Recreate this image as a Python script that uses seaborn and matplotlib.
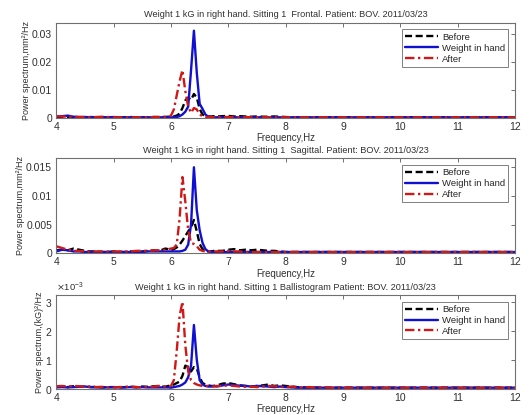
import numpy as np
import pandas as pd
import matplotlib
matplotlib.use("Agg")
import matplotlib.pyplot as plt
import seaborn as sns
from matplotlib.ticker import ScalarFormatter

# Frequency grid, Hz (finer spacing around the tremor peak)
freq = [4.0, 4.1, 4.2, 4.3, 4.4, 4.5, 4.6, 4.7, 4.8, 4.9,
        5.0, 5.1, 5.2, 5.3, 5.4, 5.5, 5.6, 5.7, 5.8,
        5.85, 5.90, 5.95, 6.00, 6.05, 6.10, 6.15, 6.20, 6.25, 6.30,
        6.35, 6.40, 6.45, 6.50, 6.55, 6.60, 6.65, 6.70, 6.75, 6.80,
        6.9, 7.0, 7.1, 7.2, 7.3, 7.4, 7.5, 7.6, 7.7, 7.8,
        7.9, 8.0, 8.1, 8.2, 8.3, 8.4, 8.5, 8.6, 8.7, 8.8, 8.9, 9.0,
        9.5, 10.0, 10.5, 11.0, 11.5, 12.0]

# Frontal plane, mm^2/Hz
frontal_before = [
    0.0003, 0.0004, 0.0003, 0.0002, 0.0002, 0.0002, 0.0003, 0.0002, 0.0002, 0.0002,
    0.0002, 0.0002, 0.0002, 0.0003, 0.0002, 0.0002, 0.0002, 0.0003, 0.0003,
    0.0003, 0.0003, 0.0004, 0.0004, 0.0005, 0.0008, 0.0015, 0.0035, 0.0062, 0.0072,
    0.0064, 0.0085, 0.0072, 0.0032, 0.0012, 0.0007, 0.0005, 0.0005, 0.0006, 0.0005,
    0.0006, 0.0007, 0.0005, 0.0006, 0.0005, 0.0004, 0.0005, 0.0004, 0.0004, 0.0005,
    0.0004, 0.0003, 0.0002, 0.0002, 0.0002, 0.0002, 0.0002, 0.0002, 0.0002, 0.0002, 0.0002, 0.0002,
    0.0002, 0.0002, 0.0002, 0.0002, 0.0002, 0.0002]
frontal_weight = [
    0.0005, 0.0006, 0.0008, 0.0004, 0.0003, 0.0003, 0.0002, 0.0002, 0.0002, 0.0002,
    0.0003, 0.0002, 0.0002, 0.0002, 0.0002, 0.0002, 0.0002, 0.0002, 0.0002,
    0.0002, 0.0002, 0.0002, 0.0002, 0.0002, 0.0003, 0.0006, 0.0012, 0.0022, 0.0040,
    0.0170, 0.0310, 0.0160, 0.0050, 0.0032, 0.0012, 0.0004, 0.0002, 0.0002, 0.0002,
    0.0002, 0.0002, 0.0002, 0.0002, 0.0002, 0.0002, 0.0002, 0.0002, 0.0002, 0.0002,
    0.0002, 0.0002, 0.0002, 0.0002, 0.0002, 0.0002, 0.0002, 0.0002, 0.0002, 0.0002, 0.0002, 0.0002,
    0.0002, 0.0002, 0.0002, 0.0002, 0.0002, 0.0002]
frontal_after = [
    0.0006, 0.0005, 0.0004, 0.0004, 0.0003, 0.0003, 0.0002, 0.0003, 0.0004, 0.0003,
    0.0002, 0.0002, 0.0002, 0.0002, 0.0002, 0.0002, 0.0002, 0.0003, 0.0003,
    0.0003, 0.0004, 0.0005, 0.0008, 0.0030, 0.0080, 0.0130, 0.0170, 0.0095, 0.0040,
    0.0018, 0.0035, 0.0030, 0.0012, 0.0006, 0.0003, 0.0003, 0.0003, 0.0003, 0.0003,
    0.0003, 0.0003, 0.0003, 0.0002, 0.0003, 0.0002, 0.0002, 0.0003, 0.0002, 0.0002,
    0.0002, 0.0002, 0.0002, 0.0002, 0.0002, 0.0002, 0.0002, 0.0002, 0.0002, 0.0002, 0.0002, 0.0002,
    0.0002, 0.0002, 0.0002, 0.0002, 0.0002, 0.0002]

# Sagittal plane, mm^2/Hz
sagittal_before = [
    0.0005, 0.0006, 0.0005, 0.0008, 0.0006, 0.0004, 0.0003, 0.0003, 0.0002, 0.0002,
    0.0003, 0.0002, 0.0002, 0.0003, 0.0002, 0.0003, 0.0004, 0.0005, 0.0004,
    0.0006, 0.0008, 0.0007, 0.0005, 0.0007, 0.0010, 0.0015, 0.0022, 0.0030, 0.0038,
    0.0045, 0.0058, 0.0038, 0.0016, 0.0007, 0.0004, 0.0003, 0.0003, 0.0004, 0.0004,
    0.0004, 0.0006, 0.0007, 0.0005, 0.0006, 0.0005, 0.0006, 0.0005, 0.0004, 0.0004,
    0.0003, 0.0002, 0.0002, 0.0002, 0.0002, 0.0002, 0.0002, 0.0002, 0.0002, 0.0002, 0.0002, 0.0002,
    0.0002, 0.0002, 0.0002, 0.0002, 0.0002, 0.0002]
sagittal_weight = [
    0.0003, 0.0006, 0.0005, 0.0003, 0.0003, 0.0002, 0.0002, 0.0002, 0.0002, 0.0002,
    0.0002, 0.0002, 0.0002, 0.0002, 0.0002, 0.0002, 0.0003, 0.0003, 0.0003,
    0.0003, 0.0003, 0.0003, 0.0003, 0.0003, 0.0003, 0.0003, 0.0004, 0.0006, 0.0015,
    0.0050, 0.0150, 0.0075, 0.0040, 0.0018, 0.0007, 0.0003, 0.0002, 0.0002, 0.0002,
    0.0002, 0.0002, 0.0002, 0.0002, 0.0002, 0.0002, 0.0002, 0.0002, 0.0002, 0.0002,
    0.0002, 0.0002, 0.0002, 0.0002, 0.0002, 0.0002, 0.0002, 0.0002, 0.0002, 0.0002, 0.0002, 0.0002,
    0.0002, 0.0002, 0.0002, 0.0002, 0.0002, 0.0002]
sagittal_after = [
    0.0012, 0.0009, 0.0006, 0.0004, 0.0004, 0.0003, 0.0003, 0.0003, 0.0003, 0.0003,
    0.0003, 0.0003, 0.0003, 0.0003, 0.0004, 0.0004, 0.0004, 0.0005, 0.0005,
    0.0005, 0.0006, 0.0007, 0.0008, 0.0009, 0.0015, 0.0060, 0.0133, 0.0090, 0.0040,
    0.0018, 0.0016, 0.0012, 0.0006, 0.0004, 0.0003, 0.0003, 0.0003, 0.0003, 0.0003,
    0.0003, 0.0004, 0.0003, 0.0003, 0.0002, 0.0002, 0.0002, 0.0002, 0.0002, 0.0002,
    0.0002, 0.0002, 0.0002, 0.0002, 0.0002, 0.0002, 0.0002, 0.0002, 0.0002, 0.0002, 0.0002, 0.0002,
    0.0002, 0.0002, 0.0002, 0.0002, 0.0002, 0.0002]

# Ballistogram, (kG)^2/Hz
ballisto_before = [
    0.00007, 0.00008, 0.00006, 0.00009, 0.00007, 0.00008, 0.00006, 0.00007, 0.00005, 0.00006,
    0.00006, 0.00005, 0.00006, 0.00007, 0.00006, 0.00008, 0.00007, 0.00009, 0.00010,
    0.00008, 0.00007, 0.00010, 0.00012, 0.00015, 0.00020, 0.00025, 0.00045, 0.00080, 0.00075,
    0.00060, 0.00075, 0.00070, 0.00040, 0.00020, 0.00015, 0.00012, 0.00010, 0.00010, 0.00012,
    0.00018, 0.00020, 0.00016, 0.00012, 0.00010, 0.00008, 0.00010, 0.00012, 0.00015, 0.00010,
    0.00012, 0.00010, 0.00008, 0.00006, 0.00005, 0.00005, 0.00005, 0.00004, 0.00004, 0.00004, 0.00004, 0.00004,
    0.00004, 0.00004, 0.00004, 0.00004, 0.00004, 0.00004]
ballisto_weight = [
    0.00005, 0.00006, 0.00005, 0.00006, 0.00007, 0.00008, 0.00006, 0.00005, 0.00005, 0.00005,
    0.00006, 0.00005, 0.00005, 0.00006, 0.00005, 0.00006, 0.00005, 0.00005, 0.00005,
    0.00005, 0.00005, 0.00005, 0.00004, 0.00006, 0.00008, 0.00010, 0.00015, 0.00022, 0.00040,
    0.00080, 0.00220, 0.00100, 0.00030, 0.00015, 0.00010, 0.00008, 0.00008, 0.00010, 0.00008,
    0.00012, 0.00015, 0.00013, 0.00011, 0.00010, 0.00008, 0.00010, 0.00009, 0.00008, 0.00006,
    0.00008, 0.00006, 0.00005, 0.00004, 0.00004, 0.00004, 0.00004, 0.00004, 0.00004, 0.00004, 0.00004, 0.00004,
    0.00004, 0.00004, 0.00004, 0.00004, 0.00004, 0.00004]
ballisto_after = [
    0.00009, 0.00010, 0.00008, 0.00010, 0.00009, 0.00007, 0.00008, 0.00006, 0.00007, 0.00005,
    0.00005, 0.00006, 0.00007, 0.00008, 0.00006, 0.00005, 0.00007, 0.00008, 0.00010,
    0.00010, 0.00008, 0.00008, 0.00010, 0.00030, 0.00130, 0.00250, 0.00300, 0.00150, 0.00060,
    0.00030, 0.00020, 0.00015, 0.00012, 0.00010, 0.00010, 0.00010, 0.00008, 0.00008, 0.00010,
    0.00010, 0.00012, 0.00010, 0.00008, 0.00007, 0.00008, 0.00006, 0.00008, 0.00010, 0.00009,
    0.00007, 0.00006, 0.00008, 0.00006, 0.00005, 0.00006, 0.00005, 0.00006, 0.00005, 0.00004, 0.00004, 0.00004,
    0.00004, 0.00004, 0.00004, 0.00004, 0.00004, 0.00004]

series_labels = ["Before", "Weight in hand", "After"]
titles = [
    "Weight 1 kG in right hand. Sitting 1  Frontal. Patient: BOV. 2011/03/23",
    "Weight 1 kG in right hand. Sitting 1  Sagittal. Patient: BOV. 2011/03/23",
    "Weight 1 kG in right hand. Sitting 1 Ballistogram Patient: BOV. 2011/03/23",
]
ylabels = ["Power spectrum,mm²/Hz", "Power spectrum,mm²/Hz", "Power spectrum,(kG)²/Hz"]
x_ticks = [4, 5, 6, 7, 8, 9, 10, 11, 12]
y_ticks = [[0, 0.01, 0.02, 0.03], [0, 0.005, 0.01, 0.015], [0, 0.001, 0.002, 0.003]]
y_tick_text = [["0", "0.01", "0.02", "0.03"], ["0", "0.005", "0.01", "0.015"], None]
y_tops = [0.0338, 0.0166, 0.00323]

panels = [
    (frontal_before, frontal_weight, frontal_after),
    (sagittal_before, sagittal_weight, sagittal_after),
    (ballisto_before, ballisto_weight, ballisto_after),
]

sns.set_style("white")
plt.rcParams["font.family"] = ["Liberation Sans", "DejaVu Sans"]
plt.rcParams["xtick.direction"] = "in"
plt.rcParams["ytick.direction"] = "in"

styles = [
    dict(color="black", linestyle=(0, (3, 1.5)), linewidth=1.7),
    dict(color="#1010d0", linestyle="-", linewidth=1.7),
    dict(color="#d01818", linestyle=(0, (4, 1.5, 1, 1.5)), linewidth=1.7),
]

fig = plt.figure(figsize=(5.31, 4.15), dpi=100)
fig.patch.set_facecolor("white")
boxes = [
    [0.106, 0.716, 0.864, 0.229],
    [0.106, 0.390, 0.864, 0.229],
    [0.106, 0.063, 0.864, 0.226],
]

frame_col = "#707070"
text_col = "#303030"

for i, (box, series) in enumerate(zip(boxes, panels)):
    ax = fig.add_axes(box)
    for vals, lab, st in zip(series, series_labels, styles):
        sns.lineplot(x=freq, y=vals, ax=ax, label=lab, **st)
    ax.set_xlim(4, 12)
    ax.set_ylim(0, y_tops[i])
    ax.set_xticks(x_ticks)
    ax.set_yticks(y_ticks[i])
    if y_tick_text[i] is not None:
        ax.set_yticklabels(y_tick_text[i])
    else:
        fmt = ScalarFormatter(useMathText=True)
        fmt.set_powerlimits((-3, -3))
        ax.yaxis.set_major_formatter(fmt)
        ax.yaxis.get_offset_text().set_fontsize(6.8)
        ax.yaxis.get_offset_text().set_color(text_col)
    ax.tick_params(axis="both", labelsize=7.5, colors=frame_col, labelcolor=text_col,
                   length=3, width=0.7, top=True, right=True, pad=3)
    for sp in ax.spines.values():
        sp.set_color(frame_col)
        sp.set_linewidth(0.8)
    ax.set_title(titles[i], fontsize=6.6, color=text_col, pad=4)
    ax.set_xlabel("Frequency,Hz", fontsize=6.9, color=text_col, labelpad=1)
    ax.set_ylabel(ylabels[i], fontsize=6.5, color=text_col, labelpad=0.5)
    leg = ax.legend(loc="upper right", fontsize=6.8, frameon=True, fancybox=False,
                    handlelength=3.5, handletextpad=0.4, borderpad=0.35,
                    labelspacing=0.2, borderaxespad=0.7)
    leg.get_frame().set_edgecolor("#606060")
    leg.get_frame().set_linewidth(0.7)

fig.savefig("out.png", dpi=100, facecolor="white")
